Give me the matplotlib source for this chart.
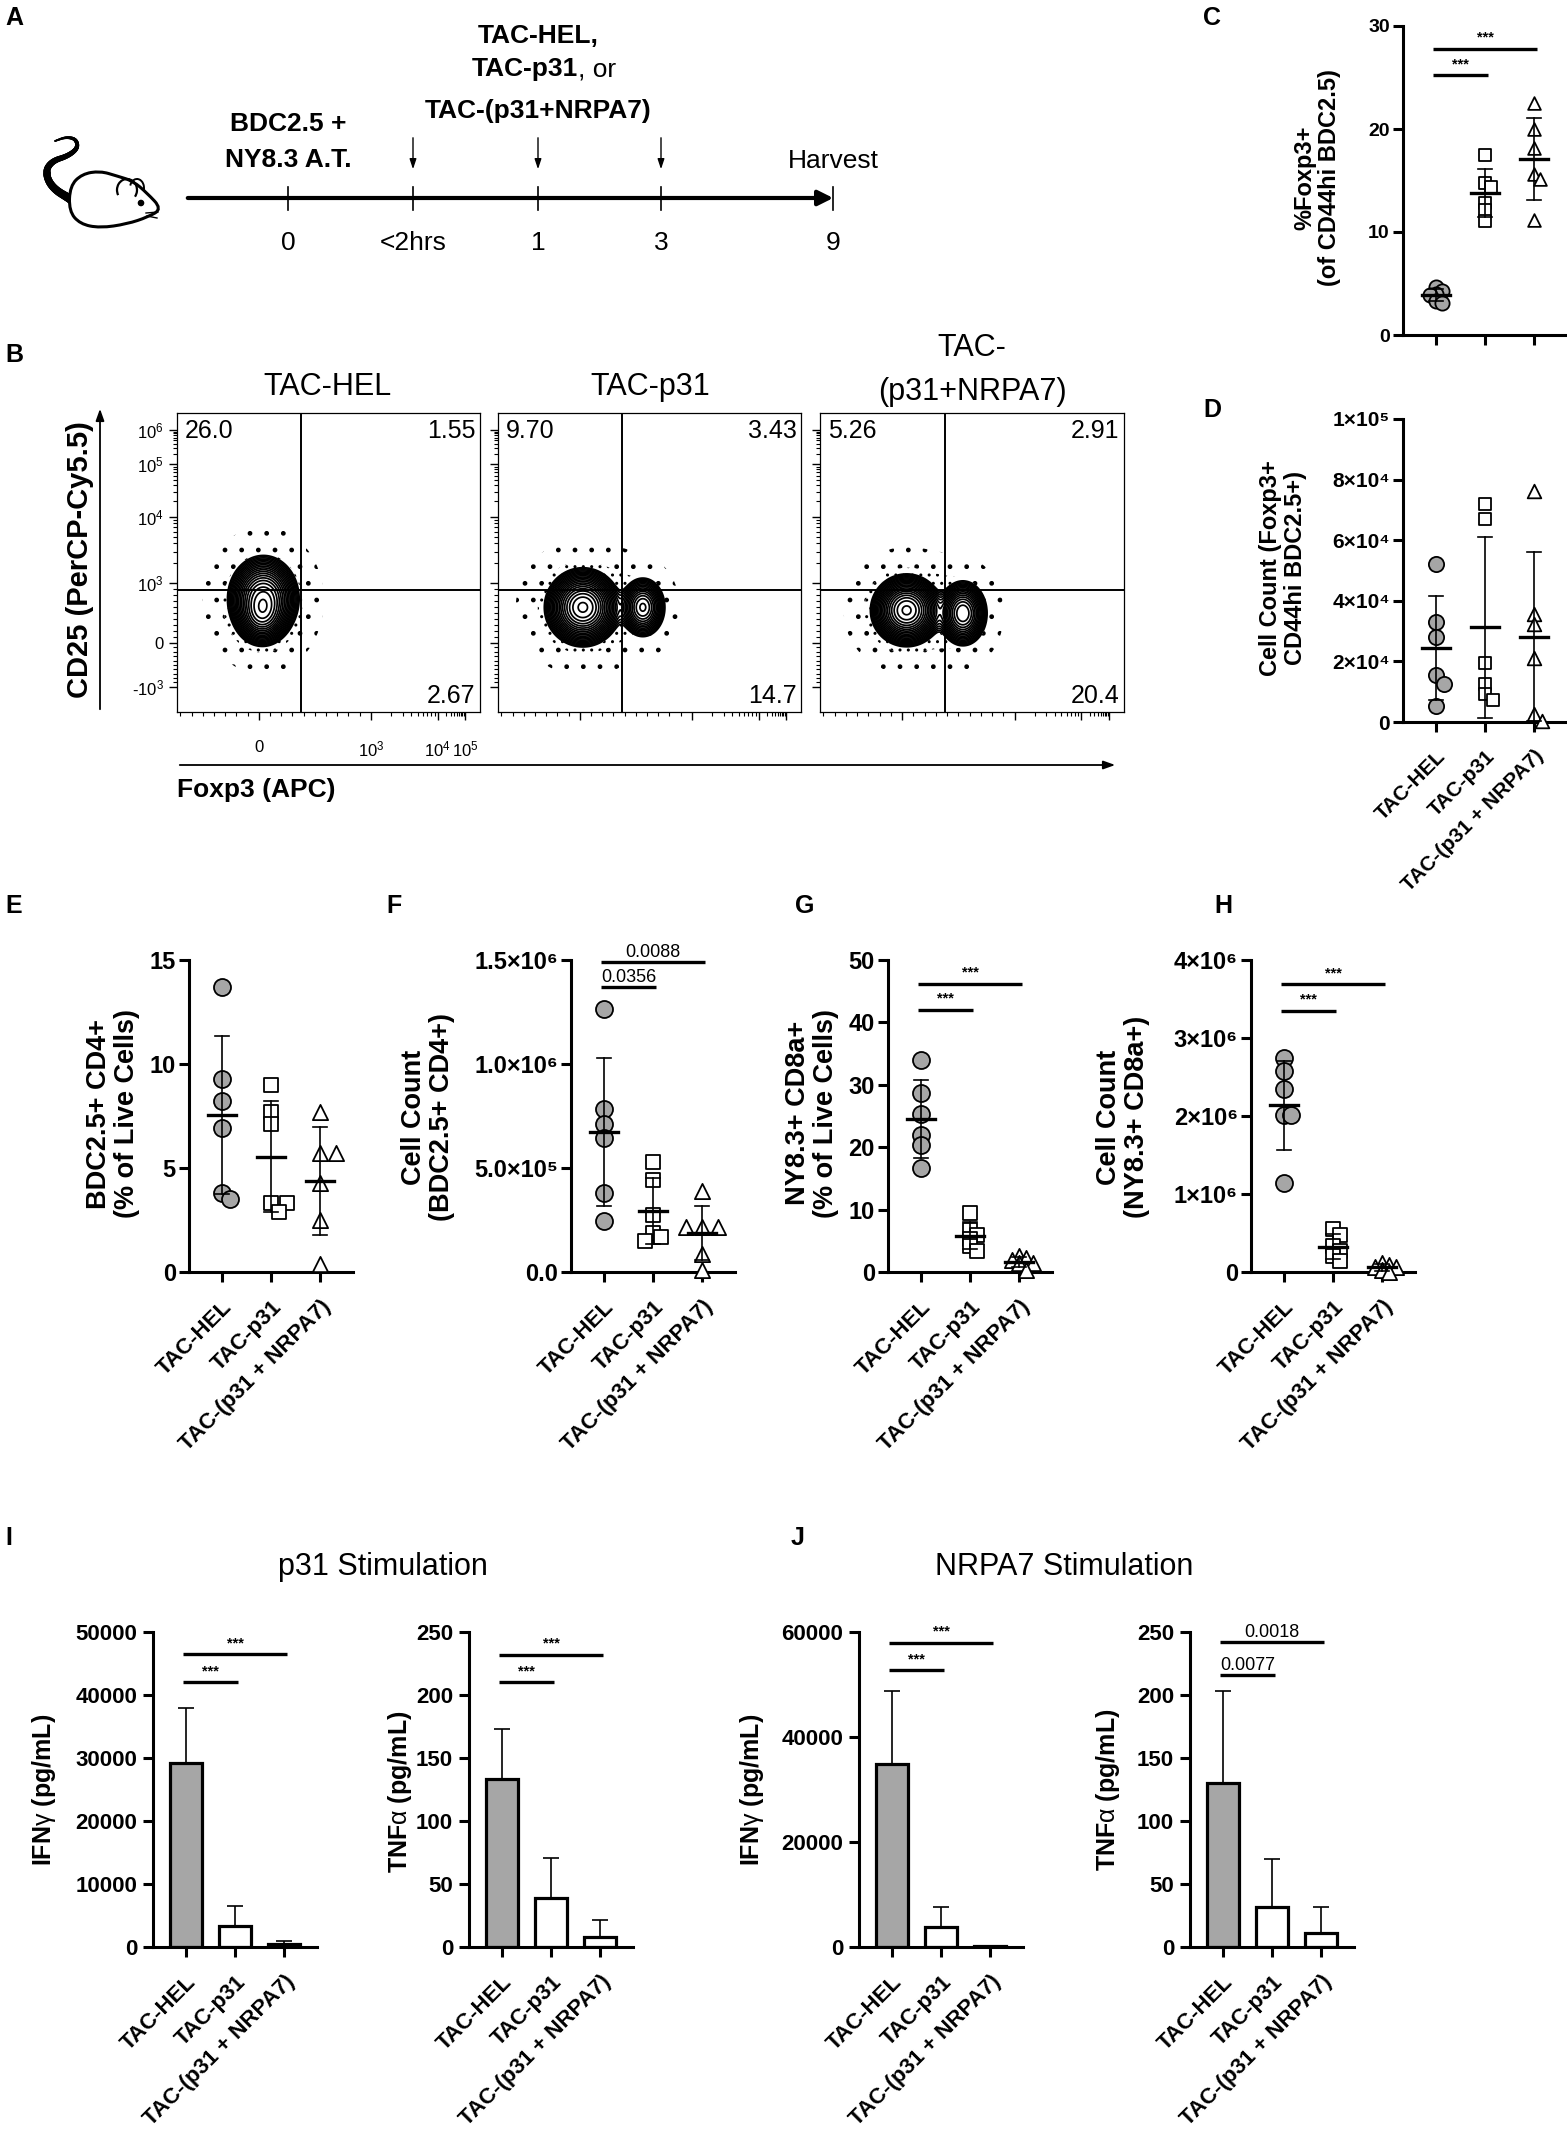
import numpy as np
import matplotlib.pyplot as plt
from matplotlib.path import Path
from matplotlib.patches import PathPatch, Arc, Circle

plt.rcParams['font.family'] = ['Liberation Sans', 'DejaVu Sans']
plt.rcParams['mathtext.fontset'] = 'custom'
plt.rcParams['mathtext.rm'] = 'Liberation Sans'
plt.rcParams['mathtext.it'] = 'Liberation Sans:italic'
plt.rcParams['mathtext.bf'] = 'Liberation Sans:bold'
plt.rcParams['hatch.color'] = 'black'
plt.rcParams['hatch.linewidth'] = 1.0

# ---------------- data ----------------
groups = ['TAC-HEL', 'TAC-p31', 'TAC-(p31 + NRPA7)']

# C: %Foxp3+ of CD44hi BDC2.5
c_hel = [4.7, 4.3, 4.0, 3.9, 3.3, 3.1]
c_p31 = [17.5, 14.8, 14.4, 12.8, 12.1, 11.1]
c_nrpa = [22.5, 20.0, 18.2, 15.6, 15.1, 11.2]
# D: cell count Foxp3+ CD44hi BDC2.5+
d_hel = [52300, 33000, 27900, 15500, 12600, 5300]
d_p31 = [72000, 67000, 19400, 12600, 9200, 7200]
d_nrpa = [76400, 35800, 32500, 21100, 2600, 400]
# E: BDC2.5+ CD4+ (% of live)
e_hel = [13.7, 9.3, 8.2, 6.9, 3.8, 3.5]
e_p31 = [9.0, 7.7, 7.1, 3.3, 3.3, 2.9]
e_nrpa = [7.7, 5.7, 5.7, 4.3, 2.5, 0.4]
# F: cell count BDC2.5+ CD4+
f_hel = [1.264e6, 0.785e6, 0.711e6, 0.643e6, 0.382e6, 0.245e6]
f_p31 = [0.531e6, 0.442e6, 0.274e6, 0.189e6, 0.166e6, 0.149e6]
f_nrpa = [0.389e6, 0.214e6, 0.214e6, 0.214e6, 0.086e6, 0.009e6]
# G: NY8.3+ CD8a+ (% of live)
g_hel = [34.0, 28.7, 25.3, 21.9, 20.3, 16.6]
g_p31 = [9.4, 6.7, 5.9, 5.3, 4.1, 3.3]
g_nrpa = [2.6, 2.3, 1.9, 1.5, 1.4, 0.3]
# H: cell count NY8.3+ CD8a+
h_hel = [2.74e6, 2.58e6, 2.34e6, 2.01e6, 2.01e6, 1.14e6]
h_p31 = [0.55e6, 0.47e6, 0.33e6, 0.27e6, 0.20e6, 0.14e6]
h_nrpa = [0.11e6, 0.09e6, 0.07e6, 0.07e6, 0.02e6, 0.0]

# I / J: cytokines, mean and SD
i_ifn_mean = [29170, 3330, 450]
i_ifn_sd = [8840, 3210, 510]
i_tnf_mean = [133.7, 38.5, 8.3]
i_tnf_sd = [39.4, 32.4, 12.8]
j_ifn_mean = [34850, 3850, 230]
j_ifn_sd = [14000, 3770, 0]
j_tnf_mean = [130.4, 31.7, 11.2]
j_tnf_sd = [72.4, 38.1, 20.2]

# significance labels
sig_c = [(0, 1, 25.2, '***'), (0, 2, 27.8, '***')]
sig_f = [(0, 1, 1.37e6, '0.0356'), (0, 2, 1.49e6, '0.0088')]
sig_g = [(0, 1, 42.0, '***'), (0, 2, 46.2, '***')]
sig_h = [(0, 1, 3.35e6, '***'), (0, 2, 3.69e6, '***')]
sig_i1 = [(0, 1, 42000, '***'), (0, 2, 46450, '***')]
sig_i2 = [(0, 1, 210, '***'), (0, 2, 232, '***')]
sig_j1 = [(0, 1, 52700, '***'), (0, 2, 57900, '***')]
sig_j2 = [(0, 1, 215.5, '0.0077'), (0, 2, 242, '0.0018')]

# B: flow quadrant percentages (UL, UR, LR)
quad_hel = ['26.0', '1.55', '2.67']
quad_p31 = ['9.70', '3.43', '14.7']
quad_nrpa = ['5.26', '2.91', '20.4']
# populations: (x, y, sx, sy, weight) in display units
blobs_hel = [(0.285, 0.38, 0.046, 0.056, 1.0), (0.28, 0.32, 0.035, 0.04, 0.5)]
blobs_p31 = [(0.28, 0.35, 0.048, 0.05, 1.0), (0.478, 0.35, 0.032, 0.043, 0.4)]
blobs_nrpa = [(0.285, 0.34, 0.045, 0.046, 1.0), (0.47, 0.33, 0.033, 0.045, 0.55)]

timeline_days = ['0', '<2hrs', '1', '3', '9']

GREY = '#a6a6a6'
W, H = 1567, 2135
fig = plt.figure(figsize=(W / 100, H / 100), dpi=100)

ov = fig.add_axes([0, 0, 1, 1])
ov.set_xlim(0, W)
ov.set_ylim(H, 0)
ov.axis('off')


def px_axes(left, top, bottom, width=164):
    ax = fig.add_axes([left / W, 1 - bottom / H, width / W, (bottom - top) / H])
    ax.patch.set_alpha(0)
    return ax


# ---------------- panel A ----------------
def smooth_closed(pts):
    pts = np.array(pts, float)
    n = len(pts)
    mids = (pts + np.roll(pts, -1, axis=0)) / 2
    verts = [mids[-1]]
    codes = [Path.MOVETO]
    for i in range(n):
        verts += [pts[i], mids[i]]
        codes += [Path.CURVE3, Path.CURVE3]
    return Path(verts, codes)


def chaikin(pts, n=4):
    pts = np.array(pts, float)
    for _ in range(n):
        q = 0.75 * pts[:-1] + 0.25 * pts[1:]
        r = 0.25 * pts[:-1] + 0.75 * pts[1:]
        pts = np.vstack([pts[:1], np.column_stack([q, r]).reshape(-1, 2), pts[-1:]])
    return pts


body = [(70, 186), (82, 174), (100, 171), (117, 176), (133, 181), (147, 193),
        (162, 209), (148, 217), (127, 224), (100, 228), (80, 224), (69, 211)]
tail = chaikin([(72, 200), (52, 188), (45, 172), (52, 161), (68, 156), (78, 148),
                (76, 139), (66, 137), (55, 141)])
tw = np.linspace(6.5, 1.0, len(tail) - 1)
for k in range(len(tail) - 1):
    ov.plot(tail[k:k + 2, 0], tail[k:k + 2, 1], color='k', lw=tw[k], solid_capstyle='round')
ov.add_patch(PathPatch(smooth_closed(body), fc='white', ec='k', lw=2.2, zorder=3))
ov.add_patch(Arc((127, 190), 20, 22, theta1=150, theta2=400, color='k', lw=1.6, zorder=4))
ov.add_patch(Arc((137, 188), 14, 18, theta1=200, theta2=380, color='k', lw=1.4, zorder=4))
ov.add_patch(Circle((141, 203), 2.6, color='k', zorder=4))
ov.plot([146, 158], [213, 212], color='k', lw=1, zorder=4)
ov.plot([147, 157], [216, 218], color='k', lw=1, zorder=4)

tl_x = [288, 413, 538, 661, 833]
tl_y = 198
ov.annotate('', xy=(836, tl_y), xytext=(185, tl_y),
            arrowprops=dict(arrowstyle='-|>,head_length=0.9,head_width=0.45', lw=3, color='k'))
for x, lab in zip(tl_x, timeline_days):
    ov.plot([x, x], [187, 210], color='k', lw=1.2)
    ov.text(x, 250, lab, ha='center', va='baseline', fontsize=19)
for x in tl_x[1:4]:
    ov.annotate('', xy=(x, 172), xytext=(x, 135),
                arrowprops=dict(arrowstyle='-|>,head_length=0.6,head_width=0.2', lw=1, color='k'))
ov.text(833, 168, 'Harvest', ha='center', va='baseline', fontsize=19)
ov.text(288, 131, 'BDC2.5 +', ha='center', va='baseline', fontsize=19, fontweight='bold')
ov.text(288, 167, 'NY8.3 A.T.', ha='center', va='baseline', fontsize=19, fontweight='bold')
ov.text(538, 43, 'TAC-HEL,', ha='center', va='baseline', fontsize=19, fontweight='bold')
ov.text(578, 76, 'TAC-p31', ha='right', va='baseline', fontsize=19, fontweight='bold')
ov.text(578, 76, ', or', ha='left', va='baseline', fontsize=19)
ov.text(538, 118, 'TAC-(p31+NRPA7)', ha='center', va='baseline', fontsize=19, fontweight='bold')

# ---------------- panel B ----------------
ypos = {'-10^3': 0.084, '0': 0.231, '10^3': 0.431, '10^4': 0.652, '10^5': 0.829, '10^6': 0.943}
xpos = {'0': 0.27, '10^3': 0.64, '10^4': 0.86, '10^5': 0.95}
gate_x, gate_y = 0.41, 0.408


def minor_positions(pos_neg, pos0, pos_dec):
    out = []
    for m in range(1, 10):
        out.append(pos0 + (pos_dec[0] - pos0) * m / 10)
        out.append(pos0 - (pos0 - pos_neg) * m / 10)
    for a, b in zip(pos_dec[:-1], pos_dec[1:]):
        for m in range(2, 10):
            out.append(a + (b - a) * np.log10(m))
    return [p for p in out if 0 <= p <= 1]


def tex_label(k):
    if k == '0':
        return '0'
    if k.startswith('-'):
        return '-$10^{%s}$' % k[-1]
    return '$10^{%s}$' % k[-1]


def density(X, Y, blobs, widen=1.0):
    Z = np.zeros_like(X)
    for cx, cy, sx, sy, w in blobs:
        Z += w * np.exp(-((X - cx) ** 2 / (2 * (widen * sx) ** 2) + (Y - cy) ** 2 / (2 * (widen * sy) ** 2)))
    return Z / Z.max()


def flow_panel(left, right, blobs, quads, show_labels):
    ax = fig.add_axes([left / W, 1 - 712 / H, (right - left) / W, (712 - 413) / H])
    g = np.linspace(0, 1, 360)
    X, Y = np.meshgrid(g, g)
    Z = density(X, Y, blobs)
    Zh = density(X, Y, blobs, widen=2.0)
    # scattered outlier events: sparse outer band, denser inner band
    ax.contourf(X, Y, Zh, levels=[0.07, 0.3, 1.01], colors='none', hatches=['.', '..'])
    ax.contourf(X, Y, Z, levels=[0.03, 1.01], colors='white')
    ax.contour(X, Y, Z, levels=np.geomspace(0.03, 0.95, 20), colors='k', linewidths=1.25)
    ax.axvline(gate_x, color='k', lw=1.4)
    ax.axhline(gate_y, color='k', lw=1.4)
    ax.set_xlim(0, 1)
    ax.set_ylim(0, 1)
    for s in ax.spines.values():
        s.set_linewidth(0.9)
    ax.set_yticks(list(ypos.values()))
    ax.set_xticks(list(xpos.values()))
    ax.set_yticks(minor_positions(ypos['-10^3'], ypos['0'],
                                  [ypos['10^3'], ypos['10^4'], ypos['10^5'], ypos['10^6']]), minor=True)
    ax.set_xticks(minor_positions(2 * xpos['0'] - xpos['10^3'], xpos['0'],
                                  [xpos['10^3'], xpos['10^4'], xpos['10^5']]), minor=True)
    ax.tick_params(which='major', length=6, width=1, labelsize=12, direction='out')
    ax.tick_params(which='minor', length=3, width=0.8, direction='out')
    if show_labels:
        ax.set_yticklabels([tex_label(k) for k in ypos])
        ax.set_xticklabels([tex_label(k) for k in xpos])
        ax.tick_params(axis='x', pad=14)
    else:
        ax.set_yticklabels([])
        ax.set_xticklabels([])
    ax.text(0.025, 0.94, quads[0], transform=ax.transAxes, ha='left', va='center', fontsize=18)
    ax.text(0.985, 0.94, quads[1], transform=ax.transAxes, ha='right', va='center', fontsize=18)
    ax.text(0.985, 0.055, quads[2], transform=ax.transAxes, ha='right', va='center', fontsize=18)
    return ax


flow_panel(177, 480, blobs_hel, quad_hel, True)
flow_panel(498, 801, blobs_p31, quad_p31, False)
flow_panel(820, 1124, blobs_nrpa, quad_nrpa, False)
ov.text(328, 387, 'TAC-HEL', ha='center', va='center', fontsize=22)
ov.text(650, 387, 'TAC-p31', ha='center', va='center', fontsize=22)
ov.text(972, 348, 'TAC-', ha='center', va='center', fontsize=22)
ov.text(972, 392, '(p31+NRPA7)', ha='center', va='center', fontsize=22)
ov.annotate('', xy=(100, 406), xytext=(100, 712),
            arrowprops=dict(arrowstyle='-|>,head_length=0.7,head_width=0.25', lw=1.3, color='k'))
ov.text(80, 560, 'CD25 (PerCP-Cy5.5)', rotation=90, ha='center', va='center',
        fontsize=21, fontweight='bold')
ov.annotate('', xy=(1118, 765), xytext=(177, 765),
            arrowprops=dict(arrowstyle='-|>,head_length=0.7,head_width=0.25', lw=1.3, color='k'))
ov.text(177, 790, 'Foxp3 (APC)', ha='left', va='center', fontsize=19, fontweight='bold')


# ---------------- dot plots ----------------
def swarm(vals, ppu, d=9.0, step=8.0):
    ys = np.asarray(vals, float) * ppu
    order = np.argsort(-ys)
    placed = []
    offs = np.zeros(len(ys))
    for k in order:
        for n in [0, 1, -1, 2, -2, 3, -3]:
            x = n * step
            if all(np.hypot(x - px, ys[k] - py) >= d for px, py in placed):
                break
        offs[k] = x
        placed.append((x, ys[k]))
    return offs


def base_axis(ax, ymax, yticks, yticklabels, xlabels=True, fs=17, xfs=16):
    for s in ['top', 'right']:
        ax.spines[s].set_visible(False)
    for s in ['left', 'bottom']:
        ax.spines[s].set_linewidth(2.2)
    ax.set_xlim(-0.67, 2.67)
    ax.set_ylim(0, ymax)
    ax.set_yticks(yticks)
    ax.set_yticklabels(yticklabels, fontweight='bold', fontsize=fs)
    ax.set_xticks([0, 1, 2])
    ax.tick_params(length=7.5, width=2.2, pad=2)
    if xlabels:
        ax.set_xticklabels(groups, rotation=45, ha='right', rotation_mode='anchor',
                           fontweight='bold', fontsize=xfs)
        ax.tick_params(axis='x', pad=10)
    else:
        ax.set_xticklabels([])


def sig_bars(ax, sigs):
    for i, j, y, lab in sigs:
        ax.plot([i - 0.06, j + 0.06], [y, y], color='k', lw=2.4, clip_on=False, solid_capstyle='butt')
        if lab == '***':
            ax.annotate(lab, xy=((i + j) / 2, y), xytext=(0, 3), textcoords='offset points',
                        ha='center', va='bottom', fontsize=10.5, fontweight='bold')
        else:
            ax.annotate(lab, xy=((i + j) / 2, y), xytext=(0, 1), textcoords='offset points',
                        ha='center', va='bottom', fontsize=13)


def dot_panel(left, top, bottom, data, ymax, yticks, yticklabels, sigs=(), xlabels=True,
              fs=17, xfs=16, msc=1.0, d=9.0, step=8.0):
    ax = px_axes(left, top, bottom)
    base_axis(ax, ymax, yticks, yticklabels, xlabels, fs, xfs)
    ppu = (bottom - top) / ymax
    styles = [('o', GREY, 150), ('s', 'white', 100), ('^', 'white', 120)]
    for i, vals in enumerate(data):
        mk, fc, sz = styles[i]
        offs = swarm(vals, ppu, d, step) / 49.0
        ax.scatter(i + offs, vals, marker=mk, s=sz * msc, facecolor=fc, edgecolor='k',
                   linewidth=1.3, zorder=3, clip_on=False)
        m = np.mean(vals)
        sd = np.std(vals, ddof=1)
        ax.plot([i - 0.28, i + 0.28], [m, m], color='k', lw=2.4, zorder=4)
        ax.plot([i, i], [max(m - sd, 0), m + sd], color='k', lw=1.2, zorder=4, clip_on=False)
        for yy in (m + sd, m - sd):
            if yy >= 0:
                ax.plot([i - 0.15, i + 0.15], [yy, yy], color='k', lw=1.2, zorder=4)
    sig_bars(ax, sigs)
    return ax


dot_panel(1403, 26, 335, [c_hel, c_p31, c_nrpa], 30, [0, 10, 20, 30],
          ['0', '10', '20', '30'], sig_c, xlabels=False, fs=14, msc=0.7, d=6.0, step=6.0)
dot_panel(1403, 419, 722, [d_hel, d_p31, d_nrpa], 1e5, [0, 2e4, 4e4, 6e4, 8e4, 1e5],
          ['0', '2×10⁴', '4×10⁴', '6×10⁴', '8×10⁴', '1×10⁵'], fs=15, xfs=15, msc=0.8)
dot_panel(189, 960, 1272, [e_hel, e_p31, e_nrpa], 15, [0, 5, 10, 15], ['0', '5', '10', '15'])
dot_panel(571, 960, 1272, [f_hel, f_p31, f_nrpa], 1.5e6, [0, 5e5, 1e6, 1.5e6],
          ['0.0', '5.0×10⁵', '1.0×10⁶', '1.5×10⁶'], sig_f)
dot_panel(888, 960, 1272, [g_hel, g_p31, g_nrpa], 50, [0, 10, 20, 30, 40, 50],
          ['0', '10', '20', '30', '40', '50'], sig_g, d=7.0, step=7.0)
dot_panel(1251, 960, 1272, [h_hel, h_p31, h_nrpa], 4e6, [0, 1e6, 2e6, 3e6, 4e6],
          ['0', '1×10⁶', '2×10⁶', '3×10⁶', '4×10⁶'], sig_h, d=7.0, step=7.0)


# ---------------- bar plots ----------------
def bar_panel(left, mean, sd, ymax, yticks, sigs):
    ax = px_axes(left, 1632, 1947)
    base_axis(ax, ymax, yticks, [f'{t:g}' for t in yticks], fs=16)
    ax.tick_params(axis='y', pad=4)
    x = np.arange(3)
    ax.bar(x, mean, width=0.64, color=[GREY, 'white', 'white'], edgecolor='k', linewidth=2.3, zorder=2)
    ax.errorbar(x, mean, yerr=[np.zeros(3), sd], fmt='none', ecolor='k', elinewidth=1.2,
                capsize=5.5, capthick=1.2, zorder=1)
    sig_bars(ax, sigs)
    return ax


bar_panel(153, i_ifn_mean, i_ifn_sd, 50000, [0, 10000, 20000, 30000, 40000, 50000], sig_i1)
bar_panel(469, i_tnf_mean, i_tnf_sd, 250, [0, 50, 100, 150, 200, 250], sig_i2)
bar_panel(859, j_ifn_mean, j_ifn_sd, 60000, [0, 20000, 40000, 60000], sig_j1)
bar_panel(1190, j_tnf_mean, j_tnf_sd, 250, [0, 50, 100, 150, 200, 250], sig_j2)

# ---------------- axis titles and panel letters ----------------
ylabels = [
    (1317, 178, '%Foxp3+\n(of CD44hi BDC2.5)', 17),
    (1283, 568, 'Cell Count (Foxp3+\nCD44hi BDC2.5+)', 17),
    (113, 1114, 'BDC2.5+ CD4+\n(% of Live Cells)', 19.5),
    (428, 1117, 'Cell Count\n(BDC2.5+ CD4+)', 19.5),
    (812, 1113, 'NY8.3+ CD8a+\n(% of Live Cells)', 19.5),
    (1123, 1117, 'Cell Count\n(NY8.3+ CD8a+)', 19.5),
    (44, 1790, r'IFN$\mathrm{\gamma}$ (pg/mL)', 18),
    (400, 1792, r'TNF$\mathrm{\alpha}$ (pg/mL)', 18),
    (752, 1790, r'IFN$\mathrm{\gamma}$ (pg/mL)', 18),
    (1108, 1790, r'TNF$\mathrm{\alpha}$ (pg/mL)', 18),
]
for x, y, s, fs in ylabels:
    ov.text(x, y, s, rotation=90, ha='center', va='center', fontsize=fs,
            fontweight='bold', multialignment='center', linespacing=1.1)

ov.text(383, 1567, 'p31 Stimulation', ha='center', va='center', fontsize=22)
ov.text(1064, 1567, 'NRPA7 Stimulation', ha='center', va='center', fontsize=22)

letters = [('A', 5, 18), ('B', 5, 355), ('C', 1203, 18), ('D', 1203, 410),
           ('E', 5, 906), ('F', 386, 906), ('G', 795, 906), ('H', 1214, 906),
           ('I', 5, 1538), ('J', 791, 1538)]
for lab, x, y in letters:
    ov.text(x, y, lab, ha='left', va='center', fontsize=18, fontweight='bold')

fig.savefig('out.png', dpi=100)
